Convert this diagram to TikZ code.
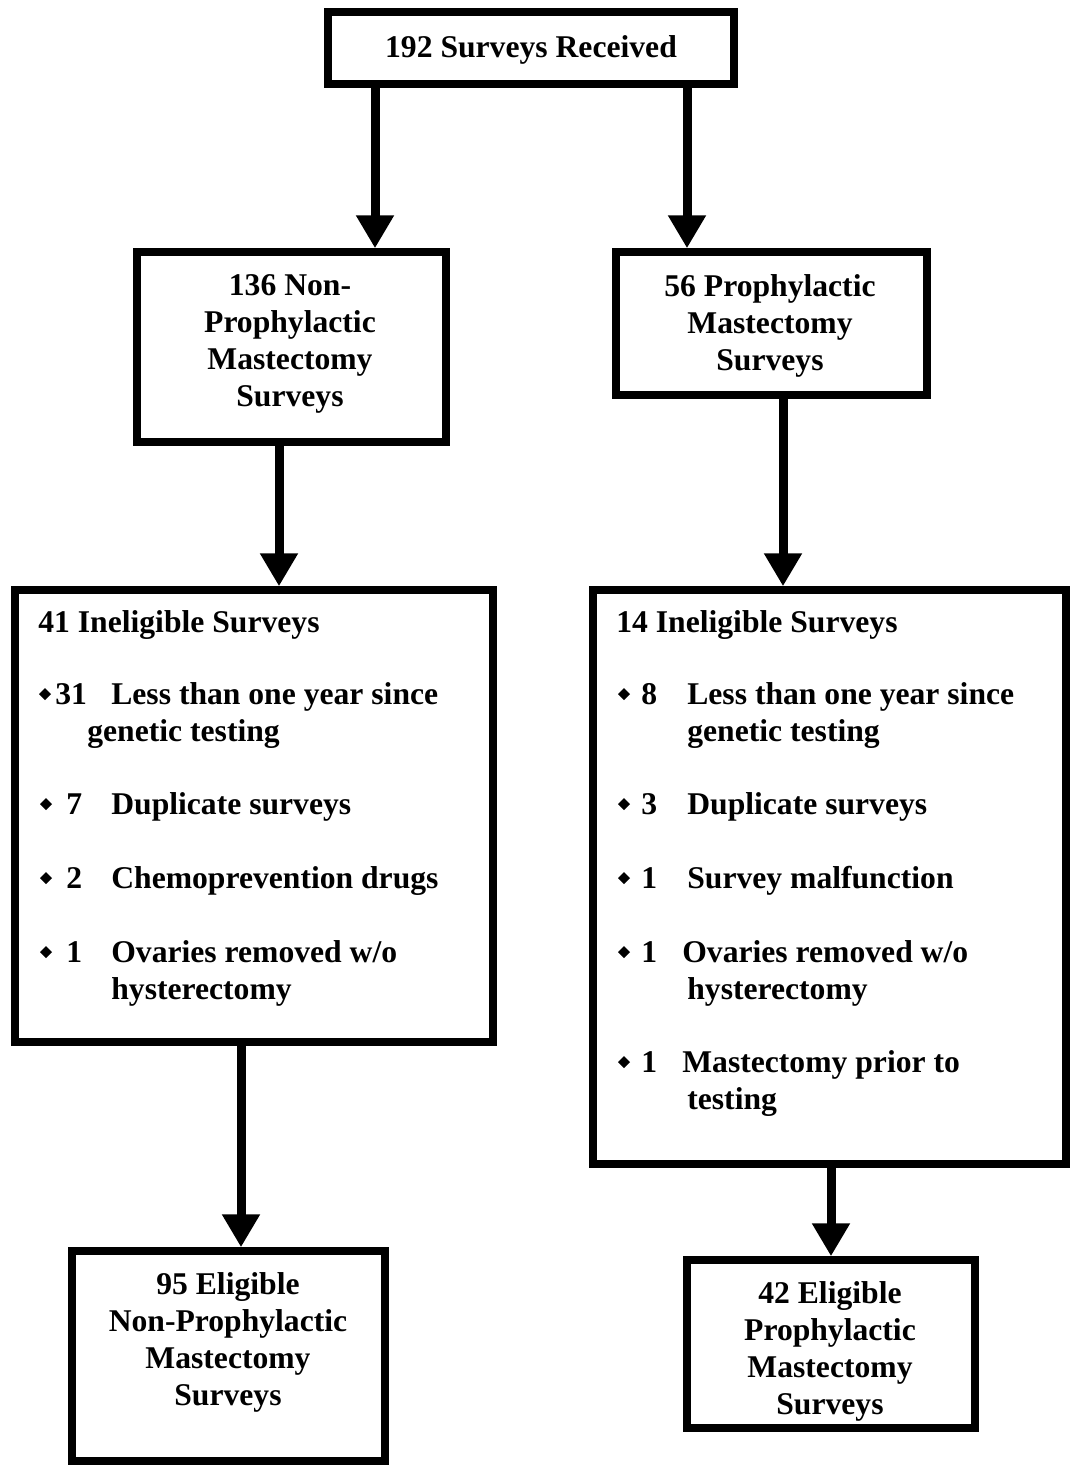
\documentclass[tikz,border=0pt]{standalone}
\usepackage{fontspec}
\setmainfont{Liberation Serif}
\usepackage{tikz}
\usetikzlibrary{arrows.meta}
\newcommand{\nr}[2][9mm]{\makebox[#1][l]{#2}}

\begin{document}
\begin{tikzpicture}[
    x=0.2mm, y=-0.2mm,
    box/.style 2 args={rectangle, draw, line width=1.5mm, inner sep=0pt,
                       minimum width=#1*0.2mm, minimum height=#2*0.2mm},
    txt/.style={inner sep=0pt, font=\bfseries\fontsize{18}{21}\selectfont},
    lbl/.style={txt, align=center, anchor=north},
    line/.style={txt, anchor=base west},
    arr/.style={-{Triangle[width=7.2mm, length=6.6mm]}, line width=1.8mm}
  ]
  \useasboundingbox (0,0) rectangle (1071,1465);

  % boxes
  \node[box={406}{72}]  (recv)    at (531,48)    {};
  \node[box={309}{190}] (nonpm)   at (291.5,347) {};
  \node[box={311}{143}] (pm)      at (771.5,323.5) {};
  \node[box={478}{452}] (inelig1) at (254,816)   {};
  \node[box={473}{574}] (inelig2) at (829.5,877) {};
  \node[box={313}{210}] (elig1)   at (228.5,1356) {};
  \node[box={288}{168}] (elig2)   at (831,1344)  {};

  % box texts
  \node[lbl] (recvtxt)  at (531,35.5)  {192 Surveys Received};
  \node[lbl] (nonpmtxt) at (290,274.5) {136 Non-\\Prophylactic\\Mastectomy\\Surveys};
  \node[lbl] (pmtxt)    at (770,274.5) {56 Prophylactic\\Mastectomy\\Surveys};
  \node[lbl] (elig1txt) at (228,1272)  {95 Eligible\\Non-Prophylactic\\Mastectomy\\Surveys};
  \node[lbl] (elig2txt) at (830,1281)  {42 Eligible\\Prophylactic\\Mastectomy\\Surveys};

  % left list
  \node[line] (lhead) at (38,632)  {41 Ineligible Surveys};
  \node[line] (la1)   at (55,704)  {\nr[11.2mm]{31}Less than one year since};
  \node[line] (la2)   at (87,741)  {genetic testing};
  \node[line] (lb)    at (66,814)  {\nr{7}Duplicate surveys};
  \node[line] (lc)    at (66,888)  {\nr{2}Chemoprevention drugs};
  \node[line] (ld1)   at (66,962)  {\nr{1}Ovaries removed w/o};
  \node[line] (ld2)   at (111,999) {hysterectomy};

  % right list
  \node[line] (rhead) at (616,632)  {14 Ineligible Surveys};
  \node[line] (ra1)   at (641,704)  {\nr[9.2mm]{8}Less than one year since};
  \node[line] (ra2)   at (687,741)  {genetic testing};
  \node[line] (rb)    at (641,814)  {\nr[9.2mm]{3}Duplicate surveys};
  \node[line] (rc)    at (641,888)  {\nr[9.2mm]{1}Survey malfunction};
  \node[line] (rd1)   at (641,962)  {\nr[8.2mm]{1}Ovaries removed w/o};
  \node[line] (rd2)   at (687,999)  {hysterectomy};
  \node[line] (re1)   at (641,1072) {\nr[8.2mm]{1}Mastectomy prior to};
  \node[line] (re2)   at (687,1109) {testing};

  % bullets
  \foreach \bx/\by in {45/694, 46/804, 46/878, 46/952,
                       624/694, 624/804, 624/878, 624/952, 624/1062}
    \fill (\bx-6,\by) -- (\bx,\by-6) -- (\bx+6,\by) -- (\bx,\by+6) -- cycle;

  % arrows
  \draw[arr] (recv.south -| 375,0)    -- (nonpm.north -| 375,0);
  \draw[arr] (recv.south -| 687,0)    -- (pm.north -| 687,0);
  \draw[arr] (nonpm.south -| 279,0)   -- (inelig1.north -| 279,0);
  \draw[arr] (pm.south -| 783,0)      -- (inelig2.north -| 783,0);
  \draw[arr] (inelig1.south -| 241,0) -- (elig1.north -| 241,0);
  \draw[arr] (inelig2.south -| 831,0) -- (elig2.north -| 831,0);
\end{tikzpicture}
\end{document}
